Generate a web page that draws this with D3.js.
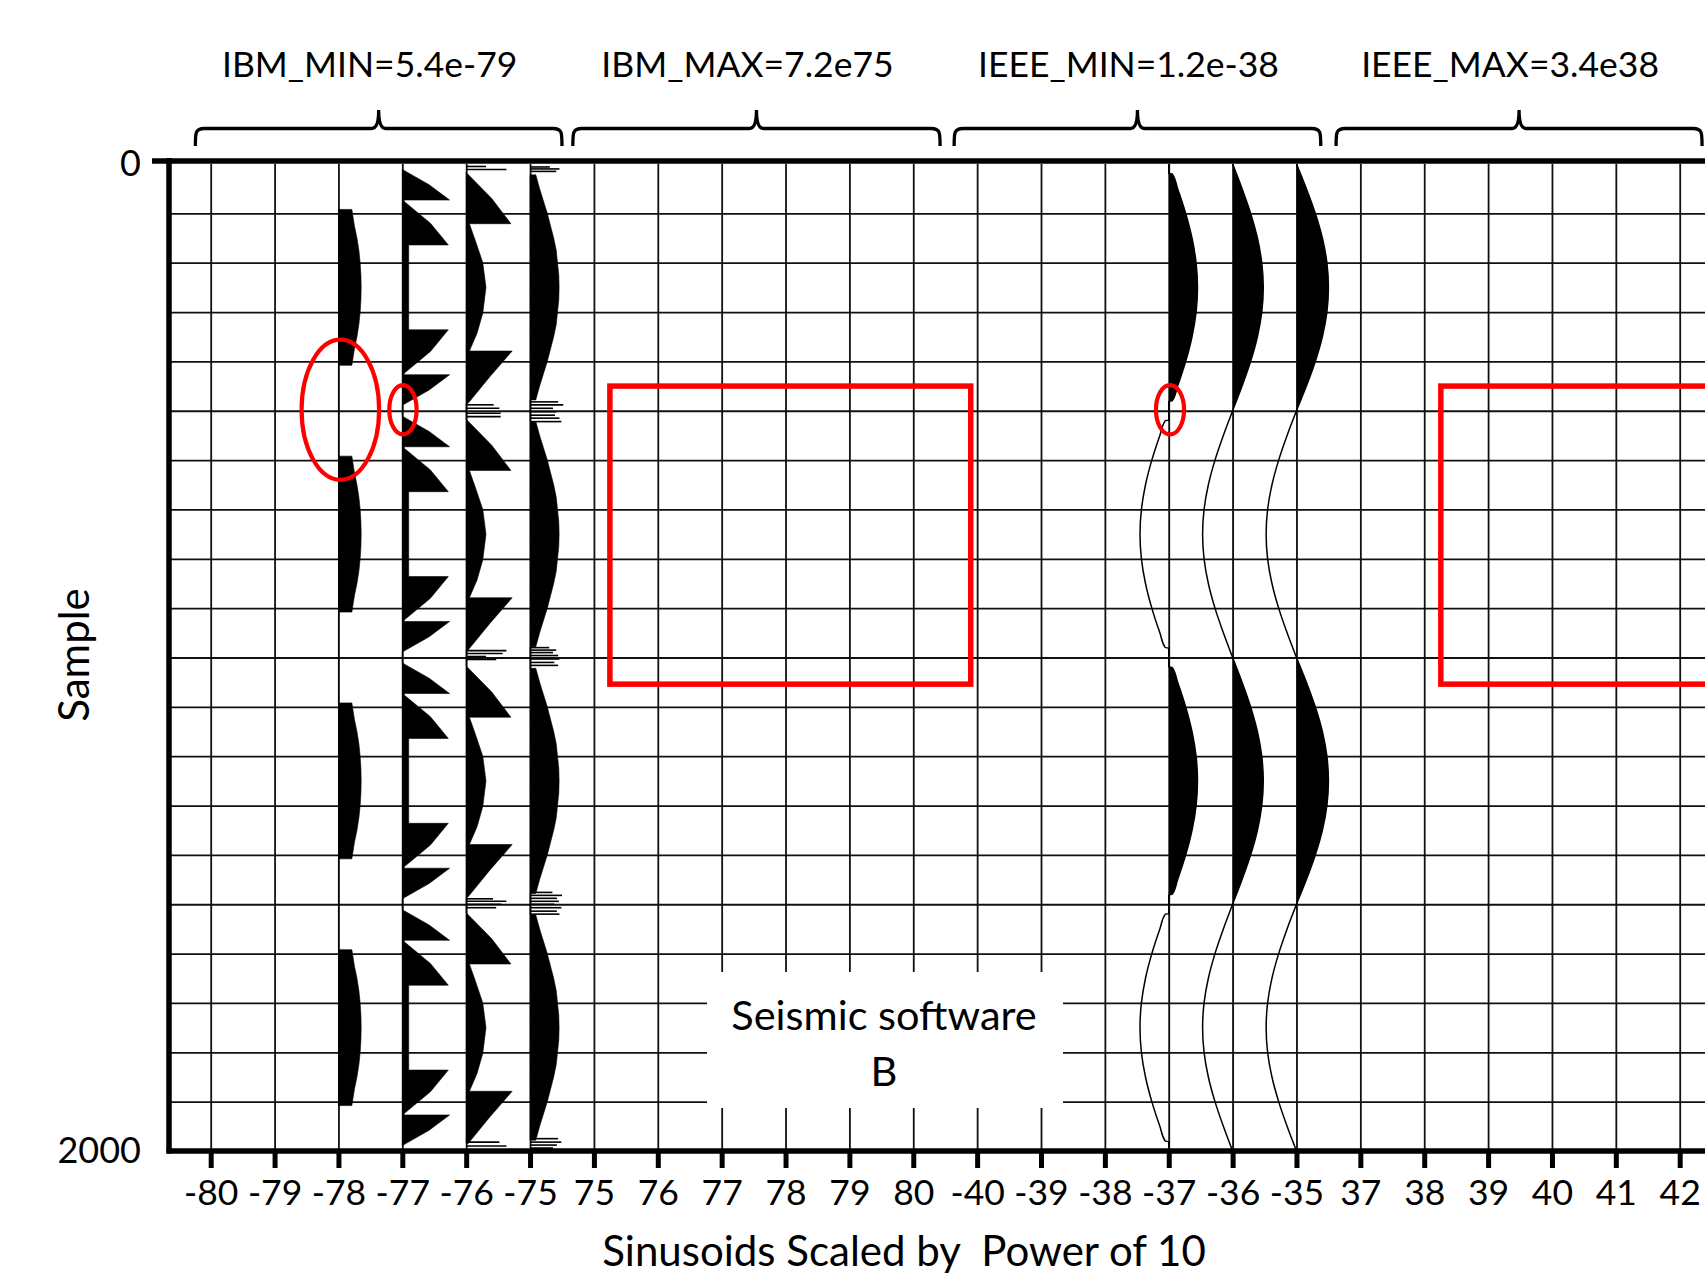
<!DOCTYPE html>
<html><head><meta charset="utf-8">
<script src="https://cdn.jsdelivr.net/npm/d3@7"></script>
<style>
html,body{margin:0;padding:0;background:#fff;}
svg{display:block;}
text{font-family:Lato,"Open Sans",sans-serif;fill:#000;}
</style>
</head><body>
<svg id="chart" width="1705" height="1278"></svg>
<script>
// ---------------- DATA ----------------
const columnLabels = ["-80","-79","-78","-77","-76","-75","75","76","77","78","79","80",
  "-40","-39","-38","-37","-36","-35","37","38","39","40","41","42"];
const groupLabels = ["IBM_MIN=5.4e-79","IBM_MAX=7.2e75","IEEE_MIN=1.2e-38","IEEE_MAX=3.4e38"];
const groupColumnSpans = [[-0.24,5.5],[5.67,11.42],[11.64,17.38],[17.62,23.35]];
const sampleTicks = [0, 2000];
const halfCycleStarts = [0, 500, 1000, 1500];

// IBM traces (software B display), [sample within half cycle, amplitude in trace spacings]
const ibm78Lobe = [[92,0],[92,0.21],[125,0.25],[150,0.29],[175,0.32],[200,0.34],[225,0.352],[250,0.356],
  [275,0.352],[300,0.34],[325,0.32],[350,0.29],[375,0.25],[408,0.21],[408,0]];
const ibm77Cycle = [[11,0],[42,0.42],[73,0.74],[73,0.03],[76,0.03],[120,0.44],[164,0.72],[164,0.10],
  [336,0.10],[336,0.72],[380,0.44],[424,0.03],[427,0.03],[427,0.74],[458,0.42],[489,0]];
const ibm76Cycle = [[17,0],[70,0.40],[121,0.70],[121,0.05],[154,0.14],[200,0.26],[250,0.31],[302,0.26],
  [343,0.17],[379,0.05],[379,0.72],[431,0.37],[485,0.03],[485,0]];
const ibm75Cycle = [[22,0],[22,0.09],[50,0.15],[75,0.21],[100,0.27],[125,0.32],[150,0.37],[175,0.41],
  [200,0.43],[225,0.45],[250,0.455],[275,0.45],[300,0.43],[325,0.41],[350,0.37],[375,0.32],[400,0.27],
  [425,0.21],[450,0.15],[478,0.09],[478,0]];
const ibm76Spikes = [[5,0.31],[11,0.63],[488,0.43],[495,0.52],[505,0.54],[512,0.54],[986,0.63],[992,0.57],
  [998,0.31],[1004,0.47],[1489,0.42],[1494,0.63],[1500,0.55],[1507,0.47],[1982,0.52],[1990,0.63]];
const ibm75Spikes = [[6,0.31],[10,0.46],[15,0.41],[482,0.44],[488,0.52],[495,0.36],[502,0.41],[509,0.39],
  [515,0.46],[522,0.49],[980,0.30],[985,0.41],[990,0.36],[996,0.44],[1003,0.46],[1010,0.38],[1016,0.44],
  [1476,0.35],[1482,0.50],[1488,0.42],[1494,0.45],[1500,0.38],[1507,0.49],[1514,0.42],[1520,0.46],
  [1975,0.44],[1982,0.49],[1988,0.42],[1994,0.36]];

// IEEE traces, [sample, amplitude]
const ieee37 = [[0,0],[19,0],[20,0.054],[50,0.139],[100,0.265],[150,0.364],[200,0.428],[250,0.45],[300,0.428],
  [350,0.364],[400,0.265],[450,0.139],[480,0.054],[481,0],[519,0],[520,-0.054],[550,-0.139],[600,-0.265],
  [650,-0.364],[700,-0.428],[750,-0.45],[800,-0.428],[850,-0.364],[900,-0.265],[950,-0.139],[980,-0.054],
  [981,0],[1019,0],[1020,0.054],[1050,0.139],[1100,0.265],[1150,0.364],[1200,0.428],[1250,0.45],[1300,0.428],
  [1350,0.364],[1400,0.265],[1450,0.139],[1480,0.054],[1481,0],[1519,0],[1520,-0.054],[1550,-0.139],
  [1600,-0.265],[1650,-0.364],[1700,-0.428],[1750,-0.45],[1800,-0.428],[1850,-0.364],[1900,-0.265],
  [1950,-0.139],[1980,-0.054],[1981,0],[2000,0]];
const ieeeSamples = [0,50,100,150,200,250,300,350,400,450,500,550,600,650,700,750,800,850,900,950,1000,
  1050,1100,1150,1200,1250,1300,1350,1400,1450,1500,1550,1600,1650,1700,1750,1800,1850,1900,1950,2000];
const ieee36 = [0,.148,.282,.388,.456,.48,.456,.388,.282,.148,0,-.145,-.276,-.38,-.447,-.47,-.447,-.38,-.276,-.145,
  0,.148,.282,.388,.456,.48,.456,.388,.282,.148,0,-.145,-.276,-.38,-.447,-.47,-.447,-.38,-.276,-.145,0];
const ieee35 = [0,.155,.294,.405,.476,.5,.476,.405,.294,.155,0,-.147,-.279,-.384,-.452,-.475,-.452,-.384,-.279,-.147,
  0,.155,.294,.405,.476,.5,.476,.405,.294,.155,0,-.147,-.279,-.384,-.452,-.475,-.452,-.384,-.279,-.147,0];

// annotations in data space (column index, sample)
const annEllipses = [{c:2.03,s:498,rc:0.607,rs:142},{c:3.01,s:498,rc:0.214,rs:50},{c:15.02,s:498,rc:0.22,rs:50}];
const annRects = [{c0:6.25,c1:11.9,s0:450,s1:1054},{c0:19.26,c1:24.91,s0:450,s1:1054}];

// ---------------- DRAW ----------------
const W = 1705, H = 1278;
const x = d3.scaleLinear().domain([0, 23]).range([210.7, 1679.7]);
const y = d3.scaleLinear().domain([0, 2000]).range([164, 1151]);
const leftX = 169;

const svg = d3.select("#chart");
svg.append("rect").attr("width", W).attr("height", H).attr("fill", "#fff");

// grid via axes
const gx = svg.append("g").attr("transform", `translate(0,${y(2000)})`)
  .call(d3.axisBottom(x).tickValues(d3.range(columnLabels.length)).tickSize(-(y(2000) - y(0))).tickFormat(""));
gx.select(".domain").remove();
gx.selectAll(".tick line").attr("stroke", "#111").attr("stroke-width", 1.8);

const gy = svg.append("g").attr("transform", `translate(${leftX},0)`)
  .call(d3.axisRight(y).tickValues(d3.range(100, 2000, 100)).tickSize(W - leftX).tickFormat(""));
gy.select(".domain").remove();
gy.selectAll(".tick line").attr("stroke", "#111").attr("stroke-width", 1.8);

// helpers
function repeatCycle(pattern) {
  return halfCycleStarts.flatMap(s0 => pattern.map(p => [s0 + p[0], p[1]]));
}
function drawIBM(col, pts) {
  const area = d3.area()
    .y(d => y(d[0]))
    .x0(x(col))
    .x1(d => x(col + d[1]))
    .curve(d3.curveLinear);
  svg.append("path").datum(pts).attr("d", area).attr("fill", "#000").attr("stroke", "#000").attr("stroke-width", 0.6);
}
function drawSpikes(col, spikes) {
  svg.append("g").selectAll("line").data(spikes).join("line")
    .attr("x1", x(col)).attr("x2", d => x(col + d[1]))
    .attr("y1", d => y(d[0])).attr("y2", d => y(d[0]))
    .attr("stroke", "#000").attr("stroke-width", 1.6);
}
function drawIEEE(col, pts, id) {
  svg.append("clipPath").attr("id", id).append("rect")
    .attr("x", x(col)).attr("y", 0).attr("width", 100).attr("height", H);
  const area = d3.area().y(d => y(d[0])).x0(x(col)).x1(d => x(col + d[1])).curve(d3.curveMonotoneY);
  svg.append("path").datum(pts).attr("d", area).attr("fill", "#000").attr("clip-path", `url(#${id})`);
  const line = d3.line().y(d => y(d[0])).x(d => x(col + d[1])).curve(d3.curveMonotoneY);
  svg.append("path").datum(pts).attr("d", line).attr("fill", "none").attr("stroke", "#000").attr("stroke-width", 1.5);
}

// IBM traces
drawIBM(2, repeatCycle(ibm78Lobe));
drawIBM(3, repeatCycle(ibm77Cycle));
drawIBM(4, repeatCycle(ibm76Cycle));
drawIBM(5, repeatCycle(ibm75Cycle));
drawSpikes(4, ibm76Spikes);
drawSpikes(5, ibm75Spikes);

// IEEE traces
drawIEEE(15, ieee37, "clip37");
drawIEEE(16, ieeeSamples.map((s, i) => [s, ieee36[i]]), "clip36");
drawIEEE(17, ieeeSamples.map((s, i) => [s, ieee35[i]]), "clip35");

// white label box
svg.append("rect").attr("x", 707).attr("y", 972).attr("width", 356).attr("height", 136).attr("fill", "#fff");
svg.append("text").attr("x", 884).attr("y", 1030).attr("text-anchor", "middle").attr("font-size", 41.5).text("Seismic software");
svg.append("text").attr("x", 884).attr("y", 1086).attr("text-anchor", "middle").attr("font-size", 41.5).text("B");

// frame axes
svg.append("line").attr("x1", 152).attr("x2", W).attr("y1", 161).attr("y2", 161).attr("stroke", "#000").attr("stroke-width", 5.5);
svg.append("line").attr("x1", leftX - 2.5).attr("x2", W).attr("y1", 1151).attr("y2", 1151).attr("stroke", "#000").attr("stroke-width", 5.5);
svg.append("line").attr("x1", leftX).attr("x2", leftX).attr("y1", 158).attr("y2", 1153.5).attr("stroke", "#000").attr("stroke-width", 5.5);

// bottom ticks + labels
const bx = svg.append("g").attr("transform", `translate(0,1153)`)
  .call(d3.axisBottom(x).tickValues(d3.range(columnLabels.length)).tickFormat(i => columnLabels[i]).tickSize(15).tickPadding(12));
bx.select(".domain").remove();
bx.selectAll(".tick line").attr("stroke", "#000").attr("stroke-width", 5);
bx.selectAll(".tick text").attr("font-size", 35.5).attr("font-family", "Lato,'Open Sans',sans-serif").attr("fill", "#000");

// left labels
const ly = svg.append("g").attr("transform", `translate(${leftX},0)`)
  .call(d3.axisLeft(y).tickValues(sampleTicks).tickFormat(d3.format("d")).tickSize(0).tickPadding(28));
ly.select(".domain").remove();
ly.selectAll(".tick text").attr("font-size", 36).attr("font-family", "Lato,'Open Sans',sans-serif").attr("fill", "#000");

// axis titles
svg.append("text").attr("x", 904).attr("y", 1266).attr("text-anchor", "middle").attr("font-size", 42)
  .style("white-space", "pre").text("Sinusoids Scaled by  Power of 10");
svg.append("text").attr("transform", "translate(89,655) rotate(-90)").attr("text-anchor", "middle")
  .attr("font-size", 42).text("Sample");

// braces + group labels
const yLine = 128.5, yEnd = 146, yTip = 110;
groupColumnSpans.forEach((sp, i) => {
  const x0 = x(sp[0]), x1 = x(sp[1]), xm = (x0 + x1) / 2;
  const p = `M${x0},${yEnd} C${x0},${yLine + 4} ${x0},${yLine} ${x0 + 9},${yLine} L${xm - 7},${yLine} Q${xm},${yLine} ${xm},${yTip} Q${xm},${yLine} ${xm + 7},${yLine} L${x1 - 9},${yLine} C${x1},${yLine} ${x1},${yLine + 4} ${x1},${yEnd}`;
  svg.append("path").attr("d", p).attr("fill", "none").attr("stroke", "#000").attr("stroke-width", 3.3);
  svg.append("text").attr("x", xm - 9).attr("y", 77).attr("text-anchor", "middle").attr("font-size", 35.5).text(groupLabels[i]);
});

// red annotations
const pxPerCol = x(1) - x(0), pxPerSample = y(1) - y(0);
svg.append("g").selectAll("ellipse").data(annEllipses).join("ellipse")
  .attr("cx", d => x(d.c)).attr("cy", d => y(d.s)).attr("rx", d => d.rc * pxPerCol).attr("ry", d => d.rs * pxPerSample)
  .attr("fill", "none").attr("stroke", "#ff0000").attr("stroke-width", 4.2);
svg.append("g").selectAll("rect").data(annRects).join("rect")
  .attr("x", d => x(d.c0)).attr("y", d => y(d.s0)).attr("width", d => x(d.c1) - x(d.c0)).attr("height", d => y(d.s1) - y(d.s0))
  .attr("fill", "none").attr("stroke", "#ff0000").attr("stroke-width", 5.5);
</script>
</body></html>
